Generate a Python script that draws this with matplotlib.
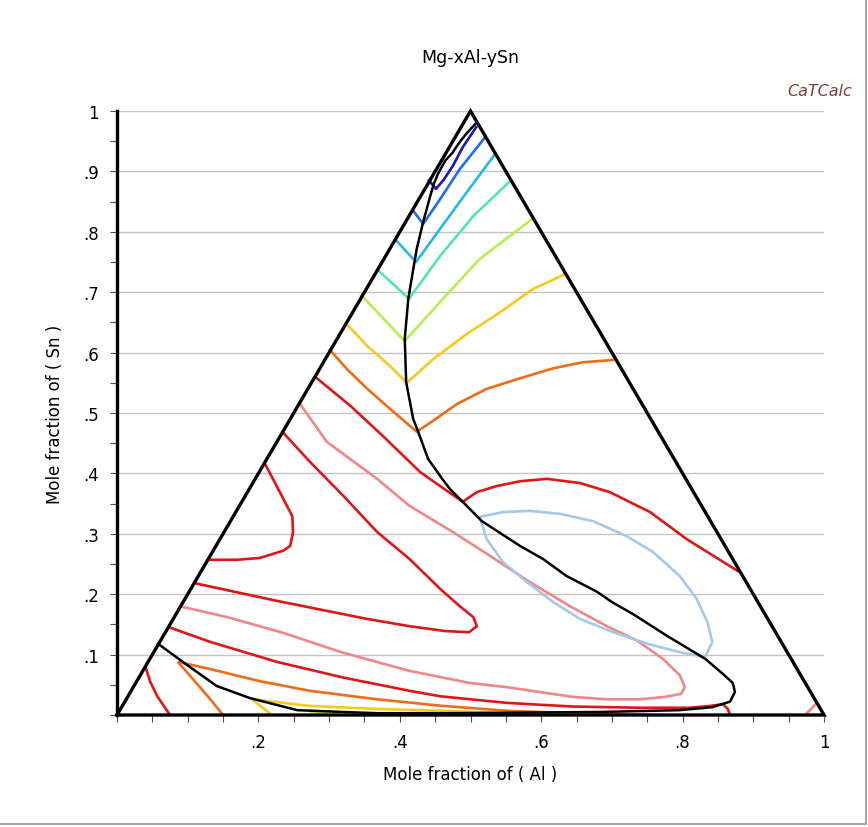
import numpy as np
import matplotlib
matplotlib.use("Agg")
import matplotlib.pyplot as plt
from matplotlib.lines import Line2D

# plot coordinates: x = x(Al) + x(Sn)/2, y = x(Sn)
tri_x = [0.0, 1.0, 0.5, 0.0]
tri_y = [0.0, 0.0, 1.0, 0.0]

# phase boundary (black)
boundary = [(0.058, 0.118), (0.093, 0.088), (0.141, 0.048), (0.188, 0.028), (0.255, 0.008),
            (0.320, 0.005), (0.368, 0.003), (0.471, 0.003), (0.683, 0.005), (0.796, 0.008),
            (0.842, 0.013), (0.867, 0.022), (0.874, 0.038), (0.871, 0.053), (0.857, 0.068),
            (0.832, 0.093), (0.778, 0.131), (0.730, 0.167), (0.700, 0.187), (0.679, 0.204),
            (0.636, 0.230), (0.603, 0.258), (0.570, 0.280), (0.516, 0.321), (0.489, 0.353),
            (0.471, 0.374), (0.460, 0.391), (0.440, 0.424), (0.426, 0.469), (0.419, 0.490),
            (0.409, 0.551), (0.407, 0.623), (0.412, 0.689), (0.419, 0.738), (0.424, 0.772),
            (0.433, 0.816), (0.443, 0.859), (0.448, 0.879), (0.454, 0.896), (0.461, 0.911),
            (0.465, 0.919), (0.474, 0.930), (0.485, 0.949), (0.496, 0.965), (0.508, 0.980)]

# iso-lines, top to bottom
dark_blue = [(0.440, 0.887), (0.451, 0.871), (0.462, 0.886), (0.475, 0.909), (0.489, 0.940),
             (0.509, 0.975)]
blue = [(0.417, 0.838), (0.433, 0.813), (0.457, 0.854), (0.485, 0.904), (0.521, 0.957)]
cyan = [(0.393, 0.788), (0.423, 0.750), (0.457, 0.805), (0.495, 0.866), (0.535, 0.929)]
aqua = [(0.368, 0.738), (0.413, 0.689), (0.457, 0.760), (0.504, 0.826), (0.556, 0.884)]
yellow_green = [(0.344, 0.697), (0.407, 0.619), (0.461, 0.689), (0.513, 0.755), (0.587, 0.821)]
gold = [(0.322, 0.651), (0.354, 0.611), (0.386, 0.578), (0.410, 0.550), (0.447, 0.589),
        (0.495, 0.631), (0.542, 0.667), (0.588, 0.705), (0.634, 0.730)]
orange = [(0.300, 0.606), (0.325, 0.573), (0.354, 0.540), (0.386, 0.507), (0.424, 0.469),
          (0.447, 0.487), (0.481, 0.515), (0.523, 0.540), (0.566, 0.556), (0.617, 0.574),
          (0.659, 0.584), (0.704, 0.588)]
red_upper = [(0.279, 0.561), (0.330, 0.512), (0.376, 0.462), (0.429, 0.402), (0.457, 0.379),
             (0.489, 0.353), (0.509, 0.369), (0.537, 0.379), (0.570, 0.387), (0.608, 0.391),
             (0.655, 0.384), (0.697, 0.369), (0.754, 0.336), (0.806, 0.291), (0.880, 0.237)]
pink_loop = [(0.257, 0.518), (0.297, 0.452), (0.368, 0.391), (0.414, 0.346), (0.475, 0.303),
             (0.523, 0.267), (0.584, 0.220), (0.641, 0.180), (0.693, 0.147), (0.736, 0.123),
             (0.772, 0.093), (0.796, 0.066), (0.803, 0.046), (0.798, 0.035), (0.775, 0.030),
             (0.740, 0.026), (0.693, 0.026), (0.645, 0.030), (0.598, 0.038), (0.552, 0.046),
             (0.499, 0.053), (0.414, 0.073), (0.320, 0.103), (0.235, 0.136), (0.156, 0.162),
             (0.089, 0.180)]
red_u = [(0.208, 0.419), (0.233, 0.363), (0.248, 0.329), (0.249, 0.303), (0.245, 0.280),
         (0.235, 0.272), (0.202, 0.260), (0.170, 0.257), (0.127, 0.257)]
red_tongue = [(0.233, 0.470), (0.273, 0.419), (0.320, 0.363), (0.368, 0.303), (0.414, 0.258),
              (0.457, 0.209), (0.485, 0.180), (0.504, 0.162), (0.509, 0.147), (0.498, 0.137),
              (0.464, 0.139), (0.414, 0.147), (0.354, 0.159), (0.226, 0.189), (0.107, 0.219)]
red_lower = [(0.072, 0.146), (0.132, 0.121), (0.226, 0.088), (0.320, 0.062), (0.414, 0.040),
             (0.457, 0.031), (0.552, 0.020), (0.645, 0.014), (0.740, 0.012), (0.810, 0.012),
             (0.839, 0.015), (0.857, 0.018), (0.864, 0.010), (0.867, 0.0)]
red_corner = [(0.040, 0.081), (0.047, 0.055), (0.057, 0.031), (0.075, 0.0)]
orange_low_a = [(0.086, 0.088), (0.107, 0.060), (0.132, 0.026), (0.150, 0.0)]
orange_low_b = [(0.086, 0.088), (0.132, 0.076), (0.202, 0.056), (0.273, 0.040), (0.368, 0.026),
                (0.461, 0.015), (0.552, 0.007), (0.645, 0.003), (0.768, 0.0)]
gold_low_a = [(0.191, 0.026), (0.219, 0.0)]
gold_low_b = [(0.191, 0.026), (0.273, 0.015), (0.368, 0.010), (0.461, 0.007), (0.552, 0.003),
              (0.679, 0.0)]
yg_low = [(0.272, 0.007), (0.283, 0.004), (0.306, 0.006), (0.307, 0.0)]
pink_corner = [(0.973, 0.0), (0.980, 0.008), (0.990, 0.020)]
light_blue_loop = [(0.513, 0.328), (0.546, 0.336), (0.584, 0.338), (0.627, 0.333), (0.673, 0.321),
                   (0.721, 0.296), (0.758, 0.270), (0.796, 0.230), (0.820, 0.192), (0.835, 0.154),
                   (0.842, 0.121), (0.832, 0.096), (0.796, 0.104), (0.750, 0.118), (0.702, 0.137),
                   (0.655, 0.159), (0.617, 0.187), (0.580, 0.220), (0.546, 0.253), (0.523, 0.291),
                   (0.513, 0.328)]

x_ticks = [0.2, 0.4, 0.6, 0.8, 1.0]
x_labels = [".2", ".4", ".6", ".8", "1"]
y_ticks = [0.1, 0.2, 0.3, 0.4, 0.5, 0.6, 0.7, 0.8, 0.9, 1.0]
y_labels = [".1", ".2", ".3", ".4", ".5", ".6", ".7", ".8", ".9", "1"]

RED = "#e01616"
PINK = "#f08686"
ORANGE = "#ee6c16"
GOLD = "#f8c81c"


def xy(pts):
    return [p[0] for p in pts], [p[1] for p in pts]


def main():
    fig = plt.figure(figsize=(8.68, 8.28), dpi=100)
    ax = fig.add_axes([117 / 868, 112 / 828, 707 / 868, 604 / 828])
    ax.set_xlim(0, 1)
    ax.set_ylim(0, 1)

    ax.set_axisbelow(True)
    ax.grid(axis="y", color="#c4c4c4", linewidth=1.0)
    for s in ["top", "right", "bottom"]:
        ax.spines[s].set_visible(False)
    ax.spines["left"].set_linewidth(2.4)
    ax.spines["left"].set_color("black")

    lines = [
        (dark_blue, "#1a1ab0"), (blue, "#1e6ee4"), (cyan, "#2ab6e6"), (aqua, "#52e4b4"),
        (yellow_green, "#b6f050"), (gold, GOLD), (orange, ORANGE), (red_upper, RED),
        (pink_loop, PINK), (red_u, RED), (red_tongue, RED), (light_blue_loop, "#a6c8e8"),
        (red_lower, RED), (red_corner, RED), (orange_low_a, ORANGE), (orange_low_b, ORANGE),
        (gold_low_b, GOLD), (gold_low_a, GOLD), (yg_low, "#b6f050"), (pink_corner, PINK),
    ]
    for pts, col in lines:
        x, y = xy(pts)
        ax.plot(x, y, color=col, linewidth=1.9, solid_capstyle="butt",
                solid_joinstyle="round", zorder=3)

    bx, by = xy(boundary)
    ax.plot(bx, by, color="black", linewidth=1.8, solid_joinstyle="round", zorder=4)
    ax.plot(tri_x, tri_y, color="black", linewidth=2.4, zorder=5, clip_on=False,
            solid_joinstyle="miter")

    ax.set_xticks(x_ticks)
    ax.set_xticklabels(x_labels)
    ax.set_xticks(np.arange(0, 1.001, 0.05), minor=True)
    ax.set_yticks(y_ticks)
    ax.set_yticklabels(y_labels)
    ax.set_yticks(np.arange(0, 1.001, 0.05), minor=True)
    ax.tick_params(which="both", direction="out", length=5, width=0.8, color="#505050",
                   labelsize=12, pad=8)

    ax.set_xlabel("Mole fraction of ( Al )", fontsize=12, labelpad=10)
    ax.set_ylabel("Mole fraction of ( Sn )", fontsize=12, labelpad=14)
    fig.text(0.542, 0.930, "Mg-xAl-ySn", ha="center", va="center", fontsize=12.5)
    fig.text(0.982, 0.890, "CaTCalc", ha="right", va="center", fontsize=11.5,
             style="italic", color="#7a3c3c")

    # frame of the image
    fig.add_artist(Line2D([0, 0.9977], [0.0036, 0.0036], color="#a8a8a8", lw=1.5))
    fig.add_artist(Line2D([0.9977, 0.9977], [0.0036, 1], color="#a8a8a8", lw=1.5))

    fig.savefig("out.png", dpi=100)
    plt.close(fig)


if __name__ == "__main__":
    main()
